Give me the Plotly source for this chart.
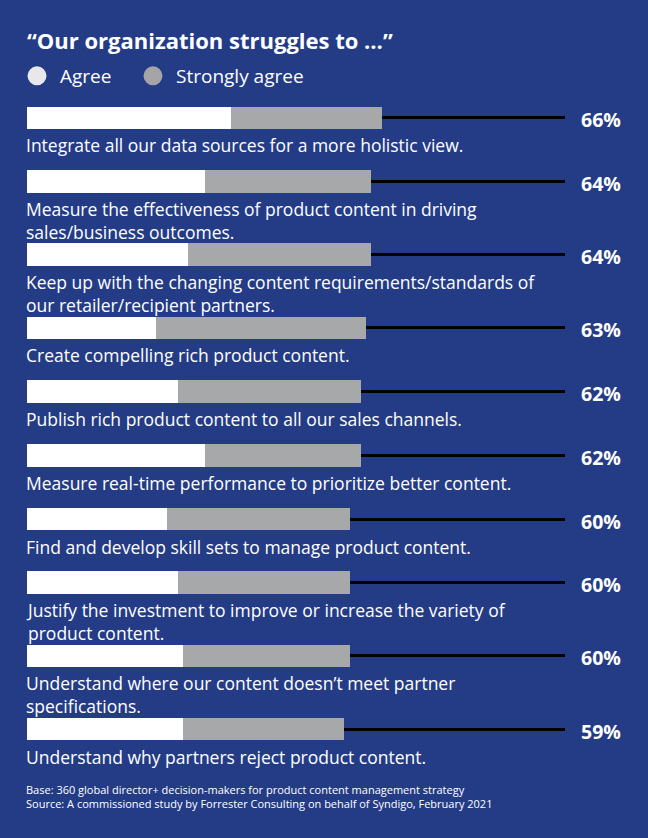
import plotly.graph_objects as go

categories = [
    "Integrate all our data sources for a more holistic view.",
    "Measure the effectiveness of product content in driving<br>sales/business outcomes.",
    "Keep up with the changing content requirements/standards of<br>our retailer/recipient partners.",
    "Create compelling rich product content.",
    "Publish rich product content to all our sales channels.",
    "Measure real-time performance to prioritize better content.",
    "Find and develop skill sets to manage product content.",
    "Justify the investment to improve or increase the variety of<br>product content.",
    "Understand where our content doesn\u2019t meet partner<br>specifications.",
    "Understand why partners reject product content.",
]
agree = [38, 33, 30, 24, 28, 33, 26, 28, 29, 29]
strongly_agree = [28, 31, 34, 39, 34, 29, 34, 32, 31, 30]
totals = [66, 64, 64, 63, 62, 62, 60, 60, 60, 59]

title_text = "\u201cOur organization struggles to \u2026\u201d"
footnote = [
    "Base: 360 global director+ decision-makers for product content management strategy",
    "Source: A commissioned study by Forrester Consulting on behalf of Syndigo, February 2021",
]

W, H = 648, 838
ML, MR = 27, 648 - 565
PW = W - ML - MR
BG = "#243C86"
WHITE = "#FFFFFF"
GRAY = "#A7A8AA"
FONT = "Open Sans"
LABEL_SIZE = 17.5


def px_to_paper_x(px):
    return (px - ML) / PW


# vertical layout: y axis in pixel units (top = 0)
first_center = 117.8
gap_one_line = 63.7
gap_two_lines = 73.2
centers = [first_center]
for lab in categories[:-1]:
    n_lines = lab.count("<br>") + 1
    centers.append(centers[-1] + (gap_one_line if n_lines == 1 else gap_two_lines))

bar_h = 22.5
track = [100] * len(categories)

fig = go.Figure()
fig.add_trace(go.Bar(y=centers, x=track, base=0, orientation="h", width=3,
                     marker=dict(color="#000000", line=dict(width=0)),
                     showlegend=False, hoverinfo="skip"))
fig.add_trace(go.Bar(y=centers, x=agree, base=0, orientation="h", width=bar_h,
                     marker=dict(color=WHITE, line=dict(width=0)),
                     name="Agree", showlegend=False))
fig.add_trace(go.Bar(y=centers, x=strongly_agree, base=agree, orientation="h", width=bar_h,
                     marker=dict(color=GRAY, line=dict(width=0)),
                     name="Strongly agree", showlegend=False))
# legend entries
fig.add_trace(go.Scatter(x=[None], y=[None], mode="markers", name="Agree", legend="legend",
                         marker=dict(symbol="circle", size=16, color="#E8E8EA",
                                     line=dict(color="#E8E8EA", width=3))))
fig.add_trace(go.Scatter(x=[None], y=[None], mode="markers", name="Strongly agree", legend="legend2",
                         marker=dict(symbol="circle", size=16, color="#A5A5A7",
                                     line=dict(color="#A5A5A7", width=3))))

annotations = []
line_h = 1.3 * LABEL_SIZE
for lab, c, tot in zip(categories, centers, totals):
    n_lines = lab.count("<br>") + 1
    annotations.append(dict(x=0, y=c + 27.5 + (n_lines - 1) * line_h / 2, xref="x", yref="y",
                            text=lab, showarrow=False, xanchor="left", yanchor="middle",
                            align="left", xshift=-3,
                            font=dict(family=FONT, size=LABEL_SIZE, color=WHITE)))
    annotations.append(dict(x=px_to_paper_x(623), y=c + 2, xref="paper", yref="y",
                            text=f"<b>{tot}%</b>", showarrow=False, xanchor="right",
                            yanchor="middle", font=dict(family=FONT, size=19.5, color=WHITE)))
annotations.append(dict(x=px_to_paper_x(27), y=1 - 796.5 / H, xref="paper", yref="paper",
                        text="<br>".join(footnote), showarrow=False, xanchor="left",
                        yanchor="middle", align="left", xshift=-3,
                        font=dict(family=FONT, size=11, color=WHITE)))

legend_common = dict(orientation="h", xref="container", y=1 - 76 / H, yref="container",
                     yanchor="middle", xanchor="left", bgcolor="rgba(0,0,0,0)",
                     font=dict(family=FONT, size=19, color=WHITE), itemsizing="trace",
                     itemwidth=36)

fig.update_layout(
    width=W, height=H,
    paper_bgcolor=BG, plot_bgcolor=BG,
    margin=dict(l=ML, r=MR, t=0, b=0, pad=0, autoexpand=False),
    barmode="overlay",
    bargap=0,
    title=dict(text=f"<b>{title_text}</b>", x=27 / W, xref="container", xanchor="left",
               y=1 - 41 / H, yref="container", yanchor="middle",
               font=dict(family=FONT, size=22, color=WHITE)),
    xaxis=dict(range=[0, 100], visible=False, fixedrange=True),
    yaxis=dict(range=[H, 0], visible=False, fixedrange=True),
    showlegend=True,
    legend=dict(x=14 / W, **legend_common),
    legend2=dict(x=130 / W, **legend_common),
    annotations=annotations,
)

fig.write_html("out.html")
